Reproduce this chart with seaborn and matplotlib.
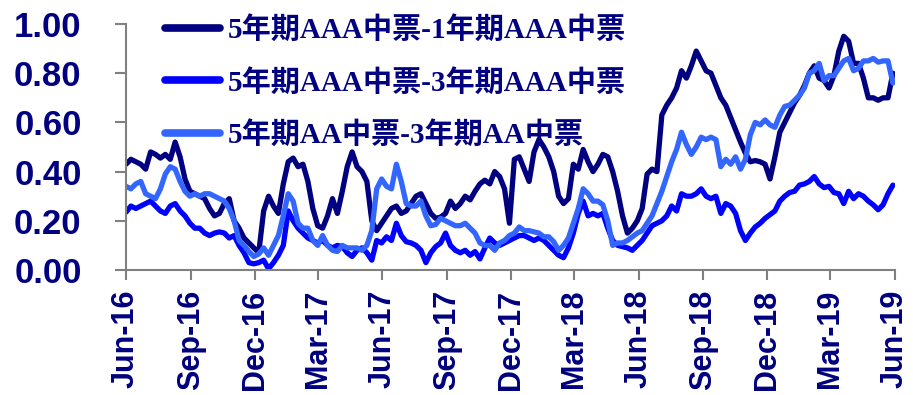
import matplotlib
matplotlib.use("Agg")
import matplotlib.pyplot as plt
import matplotlib.dates as mdates
import matplotlib.ticker as mticker
import numpy as np
import pandas as pd
import seaborn as sns

# Weekly observations, June 2016 - May 2019
start_date = "2016-06-01"
n_weeks = 157

series_names = [
    "5年期AAA中票-1年期AAA中票",
    "5年期AAA中票-3年期AAA中票",
    "5年期AA中票-3年期AA中票",
]
series_colors = ["#000080", "#0000FF", "#3366FF"]

spread_5y_1y_aaa = [
    0.43, 0.45, 0.44, 0.43, 0.41, 0.48, 0.47, 0.455, 0.47, 0.45,
    0.52, 0.46, 0.37, 0.32, 0.31, 0.30, 0.29, 0.25, 0.22, 0.23,
    0.27, 0.29, 0.20, 0.17, 0.13, 0.11, 0.09, 0.07, 0.24, 0.30,
    0.26, 0.23, 0.35, 0.44, 0.455, 0.42, 0.43, 0.36, 0.25, 0.18,
    0.17, 0.22, 0.29, 0.23, 0.32, 0.42, 0.48, 0.42, 0.40, 0.36,
    0.20, 0.16, 0.19, 0.22, 0.25, 0.26, 0.23, 0.24, 0.27, 0.30,
    0.31, 0.27, 0.23, 0.21, 0.215, 0.23, 0.28, 0.25, 0.27, 0.30,
    0.285, 0.32, 0.35, 0.365, 0.35, 0.40, 0.38, 0.33, 0.19, 0.45,
    0.46, 0.41, 0.36, 0.48, 0.53, 0.50, 0.46, 0.40, 0.30, 0.27,
    0.29, 0.43, 0.41, 0.49, 0.44, 0.40, 0.43, 0.47, 0.46, 0.40,
    0.32, 0.22, 0.15, 0.17, 0.20, 0.25, 0.39, 0.41, 0.40, 0.63,
    0.67, 0.70, 0.74, 0.81, 0.78, 0.83, 0.89, 0.85, 0.81, 0.80,
    0.75, 0.70, 0.67, 0.62, 0.57, 0.52, 0.475, 0.44, 0.445, 0.44,
    0.43, 0.37, 0.46, 0.56, 0.60, 0.64, 0.68, 0.71, 0.75, 0.80,
    0.83, 0.78, 0.77, 0.74, 0.79, 0.89, 0.95, 0.93, 0.84, 0.84,
    0.78, 0.70, 0.70, 0.69, 0.70, 0.70, 0.80,
]

spread_5y_3y_aaa = [
    0.235, 0.26, 0.25, 0.26, 0.27, 0.28, 0.26, 0.24, 0.23, 0.26,
    0.27, 0.24, 0.22, 0.19, 0.17, 0.17, 0.15, 0.14, 0.15, 0.155,
    0.15, 0.13, 0.14, 0.10, 0.07, 0.03, 0.025, 0.03, 0.04, 0.005,
    0.03, 0.06, 0.10, 0.24, 0.20, 0.17, 0.15, 0.13, 0.12, 0.11,
    0.12, 0.10, 0.09, 0.10, 0.095, 0.07, 0.055, 0.08, 0.09, 0.07,
    0.04, 0.12, 0.11, 0.135, 0.12, 0.19, 0.14, 0.115, 0.11, 0.10,
    0.08, 0.03, 0.07, 0.095, 0.11, 0.15, 0.10, 0.08, 0.07, 0.08,
    0.06, 0.075, 0.045, 0.09, 0.13, 0.11, 0.10, 0.11, 0.12, 0.13,
    0.14, 0.14, 0.13, 0.12, 0.13, 0.12, 0.10, 0.08, 0.06, 0.05,
    0.09, 0.15, 0.23, 0.28, 0.22, 0.23, 0.22, 0.23, 0.17, 0.12,
    0.10, 0.095, 0.09, 0.08, 0.10, 0.12, 0.15, 0.18, 0.19, 0.20,
    0.22, 0.26, 0.24, 0.31, 0.30, 0.30, 0.31, 0.33, 0.30, 0.29,
    0.30, 0.23, 0.27, 0.26, 0.23, 0.16, 0.12, 0.15, 0.175, 0.19,
    0.21, 0.225, 0.24, 0.28, 0.30, 0.315, 0.32, 0.345, 0.35, 0.36,
    0.38, 0.35, 0.335, 0.34, 0.315, 0.31, 0.27, 0.32, 0.29, 0.31,
    0.30, 0.28, 0.265, 0.245, 0.265, 0.31, 0.345,
]

spread_5y_3y_aa = [
    0.34, 0.33, 0.35, 0.36, 0.31, 0.30, 0.29, 0.33, 0.39, 0.42,
    0.41, 0.36, 0.32, 0.30, 0.31, 0.30, 0.31, 0.31, 0.30, 0.29,
    0.28, 0.25, 0.20, 0.12, 0.10, 0.075, 0.055, 0.065, 0.09, 0.06,
    0.10, 0.14, 0.22, 0.31, 0.28, 0.19, 0.17, 0.17, 0.12, 0.10,
    0.14, 0.10, 0.08, 0.075, 0.10, 0.09, 0.09, 0.09, 0.08, 0.10,
    0.16, 0.33, 0.37, 0.34, 0.33, 0.43, 0.36, 0.27, 0.26, 0.26,
    0.28, 0.22, 0.18, 0.185, 0.21, 0.20, 0.19, 0.18, 0.18, 0.19,
    0.17, 0.15, 0.11, 0.10, 0.10, 0.08, 0.11, 0.12, 0.14, 0.15,
    0.175, 0.16, 0.16, 0.155, 0.15, 0.135, 0.135, 0.115, 0.08, 0.10,
    0.13, 0.19, 0.25, 0.33, 0.31, 0.28, 0.28, 0.265, 0.20, 0.10,
    0.11, 0.11, 0.12, 0.135, 0.15, 0.16, 0.19, 0.22, 0.27, 0.32,
    0.38, 0.44, 0.49, 0.56, 0.51, 0.47, 0.50, 0.54, 0.53, 0.54,
    0.53, 0.42, 0.45, 0.43, 0.46, 0.41, 0.45, 0.55, 0.60, 0.59,
    0.61, 0.59, 0.58, 0.63, 0.665, 0.67, 0.69, 0.71, 0.74, 0.80,
    0.81, 0.84, 0.77, 0.79, 0.79, 0.82, 0.85, 0.86, 0.81, 0.82,
    0.85, 0.85, 0.86, 0.845, 0.85, 0.85, 0.76,
]

y_ticks = [0.0, 0.2, 0.4, 0.6, 0.8, 1.0]
x_tick_dates = pd.date_range("2016-06-01", "2019-06-01", freq="3MS")

dates = pd.date_range(start_date, periods=n_weeks, freq="7D")
frames = []
for name, vals in zip(series_names, [spread_5y_1y_aaa, spread_5y_3y_aaa, spread_5y_3y_aa]):
    frames.append(pd.DataFrame({"date": dates, "spread": vals, "series": name}))
df = pd.concat(frames, ignore_index=True)

sns.set_style("white")
plt.rcParams["font.family"] = ["Liberation Sans", "DejaVu Sans"]

label_color = "#000080"
spine_color = "#808080"

fig = plt.figure(figsize=(9.13, 3.95), dpi=100)
ax = fig.add_axes([126 / 913, 1 - 270 / 395, (895 - 126) / 913, (270 - 24) / 395])

sns.lineplot(
    data=df, x="date", y="spread", hue="series",
    hue_order=series_names, palette=series_colors,
    linewidth=3.8, ax=ax, legend=True,
)

ax.set_xlim(pd.Timestamp("2016-06-01"), pd.Timestamp("2019-06-01"))
ax.set_ylim(0, 1.0)
ax.set_xlabel("")
ax.set_ylabel("")

ax.set_yticks(y_ticks)
ax.yaxis.set_major_formatter(mticker.FormatStrFormatter("%.2f"))
ax.set_xticks(x_tick_dates)
ax.xaxis.set_major_formatter(mdates.DateFormatter("%b-%y"))

for side in ["top", "right"]:
    ax.spines[side].set_visible(False)
for side in ["left", "bottom"]:
    ax.spines[side].set_color(spine_color)
    ax.spines[side].set_linewidth(1.5)

ax.tick_params(axis="y", direction="out", length=8, width=1.5, color=spine_color,
               pad=24, labelsize=25, labelcolor=label_color, left=True)
ax.tick_params(axis="x", direction="out", length=7, width=1.5, color=spine_color,
               pad=7, labelsize=22, labelcolor=label_color, bottom=True,
               labelrotation=90)
for lab in ax.get_yticklabels() + ax.get_xticklabels():
    lab.set_fontweight("bold")

handles, labels = ax.get_legend_handles_labels()
leg = ax.legend(
    handles, labels,
    loc="upper left", bbox_to_anchor=(165 / 913, 1 - 16 / 395),
    bbox_transform=fig.transFigure, frameon=False,
    borderpad=0, borderaxespad=0, handlelength=1.9, handletextpad=0.25,
    labelspacing=0.85,
    prop={"family": ["Liberation Serif", "Noto Sans CJK SC"], "size": 21, "weight": "bold"},
)
for line in leg.get_lines():
    line.set_linewidth(5.5)
for txt in leg.get_texts():
    txt.set_color(label_color)

fig.savefig("out.png", dpi=100)
